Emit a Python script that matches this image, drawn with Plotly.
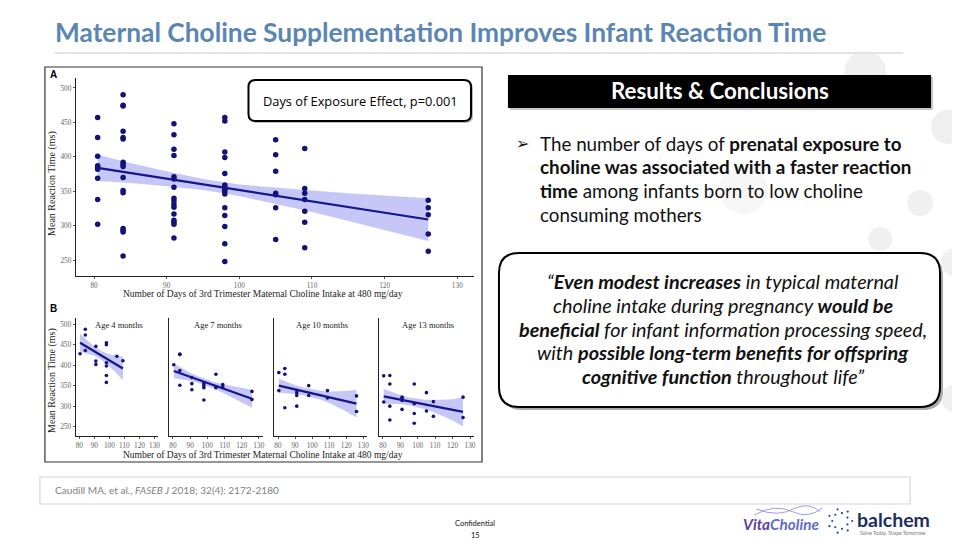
import plotly.graph_objects as go
import numpy as np

# page body has a default 8px margin, so the figure is sized to fit the window
OFF = 8
W, H = 960 - OFF, 540 - OFF

# ---------------- DATA ----------------
tick_x = [80, 90, 100, 110, 120, 130]
tick_y = [250, 300, 350, 400, 450, 500]

# Panel A: all visits
a_x = ([80.5] * 9 + [84] * 16 + [91] * 16 + [98] * 15 + [105] * 7 + [109] * 7 + [126] * 5)
a_y = [457, 428, 401, 387, 385, 382, 369, 338, 302,
       490, 475, 474, 437, 428, 426, 392, 389, 386, 370, 351, 348, 296, 293, 291, 256,
       448, 432, 411, 402, 371, 368, 356, 340, 336, 331, 327, 317, 308, 305, 302, 282,
       457, 452, 407, 399, 376, 359, 356, 353, 350, 346, 326, 315, 299, 274, 248,
       425, 403, 379, 347, 345, 326, 280,
       412, 354, 347, 338, 321, 305, 268,
       337, 326, 316, 288, 263]
a_fit_x = [80.5, 85, 90, 95, 100, 105, 110, 115, 120, 126]
a_fit_y = [384, 376.6, 368.3, 360.1, 351.8, 343.6, 335.4, 327.1, 318.9, 309]
a_lo = [365, 362, 357.5, 352, 343, 332, 320, 307, 294, 278]
a_hi = [403, 391, 379, 368, 360, 355, 351, 347, 344, 340]

# Panel B: by age
ages = ["Age 4 months", "Age 7 months", "Age 10 months", "Age 13 months"]
b4_x = [80.5, 84, 84, 84, 91, 91, 91, 98, 98, 98, 98, 98, 98, 105, 109]
b4_y = [428, 488, 474, 436, 446, 410, 402, 455, 450, 406, 398, 375, 358, 422, 411]
b4_fit_x = [80.5, 85, 90, 95, 100, 105, 109]
b4_fit_y = [455, 445, 434, 423, 412, 401, 392]
b4_lo = [433, 428, 423, 412, 397, 379, 363]
b4_hi = [477, 462, 445, 434, 427, 423, 421]

b7_x = [80.5, 84, 84, 84, 84, 91, 91, 91, 98, 98, 98, 98, 105, 105, 105, 109, 109, 126, 126]
b7_y = [401, 427, 426, 387, 351, 370, 355, 340, 355, 350, 345, 315, 378, 348, 345, 353, 347, 336, 316]
b7_fit_x = [80.5, 85, 90, 95, 100, 105, 110, 115, 120, 126]
b7_fit_y = [386, 379.3, 371.8, 364.3, 356.8, 349.4, 341.9, 334.4, 326.9, 318]
b7_lo = [368, 365.3, 361.8, 356.3, 349.3, 340.9, 330.9, 320.4, 308.9, 296]
b7_hi = [404, 393.3, 381.8, 372.3, 364.3, 357.9, 352.9, 348.4, 344.9, 340]

b10_x = [80.5, 80.5, 84, 84, 84, 91, 91, 91, 91, 98, 98, 109, 109, 126, 126]
b10_y = [382, 338, 392, 378, 296, 338, 332, 326, 300, 350, 326, 338, 320, 325, 287]
b10_fit_x = [80.5, 85, 90, 95, 100, 105, 110, 115, 120, 126]
b10_fit_y = [350, 345.6, 340.8, 336, 331.1, 326.3, 321.5, 316.6, 311.8, 306]
b10_lo = [333, 331.6, 329.8, 326.5, 321.6, 315.3, 307.5, 297.6, 286.8, 272]
b10_hi = [367, 359.6, 351.8, 345.5, 340.6, 337.3, 335.5, 335.6, 336.8, 340]

b13_x = [80.5, 80.5, 84, 84, 84, 84, 91, 91, 91, 91, 98, 98, 98, 98, 105, 105, 109, 109, 126, 126]
b13_y = [374, 310, 375, 354, 300, 266, 322, 318, 314, 292, 354, 306, 282, 258, 333, 288, 311, 275, 322, 272]
b13_fit_x = [80.5, 85, 90, 95, 100, 105, 110, 115, 120, 126]
b13_fit_y = [324, 320.2, 316.1, 311.9, 307.7, 303.5, 299.4, 295.2, 291, 286]
b13_lo = [306, 305.7, 305.1, 302.4, 297.7, 291.5, 283.9, 275.2, 265, 250]
b13_hi = [342, 334.7, 327.1, 321.4, 317.7, 315.5, 314.9, 315.2, 317, 322]

# ---------------- HELPERS ----------------
def X(x):
    return (x - OFF) / W


def Y(y):
    return 1 - (y - OFF) / H


def P(x, y):
    return f"{X(x):.5f},{Y(y):.5f}"


def rrect(x0, y0, x1, y1, r):
    return (f"M {P(x0 + r, y0)} L {P(x1 - r, y0)} Q {P(x1, y0)} {P(x1, y0 + r)} "
            f"L {P(x1, y1 - r)} Q {P(x1, y1)} {P(x1 - r, y1)} L {P(x0 + r, y1)} "
            f"Q {P(x0, y1)} {P(x0, y1 - r)} L {P(x0, y0 + r)} Q {P(x0, y0)} {P(x0 + r, y0)} Z")


NAVY_PT = "#121277"
NAVY_LN = "#15158c"
BAND = "rgba(100,100,232,0.36)"
SERIF = "Liberation Serif"

fig = go.Figure()


def add_panel(ax, xs, ys, fx, fy, lo, hi, msize, lw):
    xa = "x" if ax == 1 else f"x{ax}"
    ya = "y" if ax == 1 else f"y{ax}"
    fig.add_trace(go.Scatter(x=fx, y=lo, mode="lines", line=dict(width=0, color=BAND),
                             xaxis=xa, yaxis=ya, hoverinfo="skip"))
    fig.add_trace(go.Scatter(x=fx, y=hi, mode="lines", line=dict(width=0, color=BAND),
                             fill="tonexty", fillcolor=BAND, xaxis=xa, yaxis=ya, hoverinfo="skip"))
    fig.add_trace(go.Scatter(x=xs, y=ys, mode="markers",
                             marker=dict(size=msize, color=NAVY_PT, line=dict(width=0)),
                             xaxis=xa, yaxis=ya))
    fig.add_trace(go.Scatter(x=fx, y=fy, mode="lines", line=dict(width=lw, color=NAVY_LN),
                             xaxis=xa, yaxis=ya))


add_panel(1, a_x, a_y, a_fit_x, a_fit_y, a_lo, a_hi, 5.5, 2.2)
add_panel(2, b4_x, b4_y, b4_fit_x, b4_fit_y, b4_lo, b4_hi, 3.6, 2.2)
add_panel(3, b7_x, b7_y, b7_fit_x, b7_fit_y, b7_lo, b7_hi, 3.6, 2.2)
add_panel(4, b10_x, b10_y, b10_fit_x, b10_fit_y, b10_lo, b10_hi, 3.6, 2.2)
add_panel(5, b13_x, b13_y, b13_fit_x, b13_fit_y, b13_lo, b13_hi, 3.6, 2.2)

axc = dict(showgrid=False, zeroline=False, showline=True, linecolor="#222", linewidth=1,
           ticks="outside", ticklen=2, tickwidth=1, tickcolor="#555", ticklabelstandoff=0,
           tickfont=dict(family=SERIF, size=7.3, color="#666"), fixedrange=True)

layout_axes = {}
layout_axes["xaxis"] = dict(axc, domain=[X(76), X(475)], range=[77.5, 132.3], tickvals=tick_x, anchor="y")
layout_axes["yaxis"] = dict(axc, domain=[Y(276), Y(78)], range=[227, 514.5], tickvals=tick_y, anchor="x")

b_dom = [(75.7, 158.3), (169, 263.3), (274.3, 368), (379.3, 475)]
for i, (l, r) in enumerate(b_dom):
    n = i + 2
    layout_axes[f"xaxis{n}"] = dict(axc, domain=[X(l), X(r)], range=[77.5, 132.3], tickvals=tick_x,
                                    anchor=f"y{n}")
    yd = dict(axc, domain=[Y(436), Y(318)], range=[227, 515.4], tickvals=tick_y, anchor=f"x{n}")
    if n > 2:
        yd.update(showticklabels=False, ticks="")
    layout_axes[f"yaxis{n}"] = yd

shapes = []
# decorative circles
for cx, cy, r, c in [(867, 72, 21, "#f0f0f0"), (950, 127, 17, "#efefef"), (922, 203, 13, "#f0f0f0"),
                     (882, 239, 12, "#f0f0f0"), (745, 190, 24, "#f7f7f7"), (957, 262, 14, "#f0f0f0"),
                     (957, 398, 14, "#f0f0f0")]:
    shapes.append(dict(type="circle", xref="paper", yref="paper", x0=X(cx - r), x1=X(cx + r),
                       y0=Y(cy + r), y1=Y(cy - r), fillcolor=c, line=dict(width=0), layer="below"))
# title underline
shapes.append(dict(type="line", xref="paper", yref="paper", x0=X(55), x1=X(905), y0=Y(53), y1=Y(53),
                   line=dict(color="#e3e3e3", width=2)))
# chart image frame
shapes.append(dict(type="rect", xref="paper", yref="paper", x0=X(45), x1=X(483), y0=Y(462), y1=Y(67),
                   fillcolor="white", line=dict(color="#333", width=1.2), layer="below"))
# p-value box
shapes.append(dict(type="path", xref="paper", yref="paper", path=rrect(251, 82, 474, 123, 7),
                   fillcolor="#bdbdbd", line=dict(width=0)))
shapes.append(dict(type="path", xref="paper", yref="paper", path=rrect(249, 80, 472, 121, 7),
                   fillcolor="white", line=dict(color="black", width=2)))
# header box
shapes.append(dict(type="rect", xref="paper", yref="paper", x0=X(511), x1=X(935), y0=Y(110), y1=Y(77),
                   fillcolor="#c8c8c8", line=dict(width=0)))
shapes.append(dict(type="rect", xref="paper", yref="paper", x0=X(509), x1=X(933), y0=Y(108), y1=Y(75),
                   fillcolor="black", line=dict(width=0)))
# quote box
shapes.append(dict(type="path", xref="paper", yref="paper", path=rrect(503, 256, 945, 410, 20),
                   fillcolor="#a8a8a8", line=dict(width=0)))
shapes.append(dict(type="path", xref="paper", yref="paper", path=rrect(500, 253, 942, 407, 20),
                   fillcolor="white", line=dict(color="black", width=2)))
# citation box
shapes.append(dict(type="rect", xref="paper", yref="paper", x0=X(40), x1=X(912), y0=Y(504), y1=Y(477),
                   fillcolor="white", line=dict(color="#d6d6d6", width=1.2)))
# VitaCholine swooshes
shapes.append(dict(type="path", xref="paper", yref="paper",
                   path=f"M {P(756, 515)} Q {P(776, 503)} {P(795, 512)} Q {P(810, 519)} {P(824, 508)}",
                   line=dict(color="#8fa8d8", width=1)))
shapes.append(dict(type="path", xref="paper", yref="paper",
                   path=f"M {P(758, 509)} Q {P(780, 518)} {P(797, 508)} Q {P(812, 502)} {P(822, 512)}",
                   line=dict(color="#a79ad6", width=1)))
# balchem dotted ring (logo decoration)
for k in range(14):
    ang = 2 * np.pi * k / 14
    rr = 12 if k % 2 == 0 else 8
    cx, cy = 842 + rr * np.cos(ang), 521 + rr * np.sin(ang)
    shapes.append(dict(type="circle", xref="paper", yref="paper", x0=X(cx - 1.1), x1=X(cx + 1.1),
                       y0=Y(cy + 1.1), y1=Y(cy - 1.1), fillcolor="#2a4a8a", line=dict(width=0)))

ann = []


def T(x, y, text, size, color="black", family="Lato", xanchor="left", yanchor="middle", angle=0):
    ann.append(dict(x=X(x), y=Y(y), xref="paper", yref="paper", text=text, showarrow=False,
                    xanchor=xanchor, yanchor=yanchor, textangle=angle,
                    font=dict(family=family, size=size, color=color)))


T(53, 32, "<b>Maternal Choline Supplementation Improves Infant Reaction Time</b>", 26.3, "#5b86b4")

# chart labels
T(48, 74, "<b>A</b>", 10, "black", "Liberation Sans")
T(48, 308, "<b>B</b>", 10, "black", "Liberation Sans")
T(52, 183, "Mean Reaction Time (ms)", 10, "#222", SERIF, "center", "middle", -90)
T(52, 380, "Mean Reaction Time (ms)", 10, "#222", SERIF, "center", "middle", -90)
T(264, 294, "Number of Days of 3rd Trimester Maternal Choline Intake at 480 mg/day", 9.5, "#222", SERIF, "center")
T(264, 455, "Number of Days of 3rd Trimester Maternal Choline Intake at 480 mg/day", 9.5, "#222", SERIF, "center")
for (l, r), lab in zip(b_dom, ages):
    T((l + r) / 2 + 2, 325, lab, 8.5, "#222", SERIF, "center")
T(361, 101, "Days of Exposure Effect, p=0.001", 12.8, "black", "Open Sans", "center")

# right side text
T(721, 91, "<b>Results &amp; Conclusions</b>", 22.3, "white", "Lato", "center")
T(515, 143, "➢", 16, "#111", "DejaVu Sans")
bl = ["The number of days of <b>prenatal exposure to</b>",
      "<b>choline was associated with a faster reaction</b>",
      "<b>time</b> among infants born to low choline",
      "consuming mothers"]
for i, s in enumerate(bl):
    T(539, 143 + i * 23.7, s, 18.8, "#111")

ql = ["“<b>Even modest increases</b> in typical maternal",
      "choline intake during pregnancy <b>would be</b>",
      "<b>beneficial</b> for infant information processing speed,",
      "with <b>possible long-term benefits for offspring</b>",
      "<b>cognitive function</b> throughout life”"]
for i, s in enumerate(ql):
    T(725, 281 + i * 23.8, f"<i>{s}</i>", 19.8, "#111", "Lato", "center")

T(53, 490, "Caudill MA, et al., <i>FASEB J</i> 2018; 32(4): 2172-2180", 10.1, "#7f7f7f")
T(476, 523, "Confidential", 7.5, "#111", "Lato", "center")
T(476, 535, "15", 7.5, "#111", "Lato", "center")

T(783, 524, "<b><i><span style='color:#5d3f9c'>Vita</span><span style='color:#5f6fc4'>Choline</span></i></b>",
  15.3, "#5d3f9c", "Lato", "center")
T(857, 519, "<b>balchem</b>", 19.5, "#1d2f5c", "Lato")
T(860, 533, "Solve Today. Shape Tomorrow.", 5, "#777", "Lato")

fig.update_layout(width=W, height=H, margin=dict(l=0, r=0, t=0, b=0), paper_bgcolor="white",
                  plot_bgcolor="rgba(0,0,0,0)", showlegend=False, shapes=shapes, annotations=ann,
                  **layout_axes)

fig.write_html("out.html", config={"displayModeBar": False})
